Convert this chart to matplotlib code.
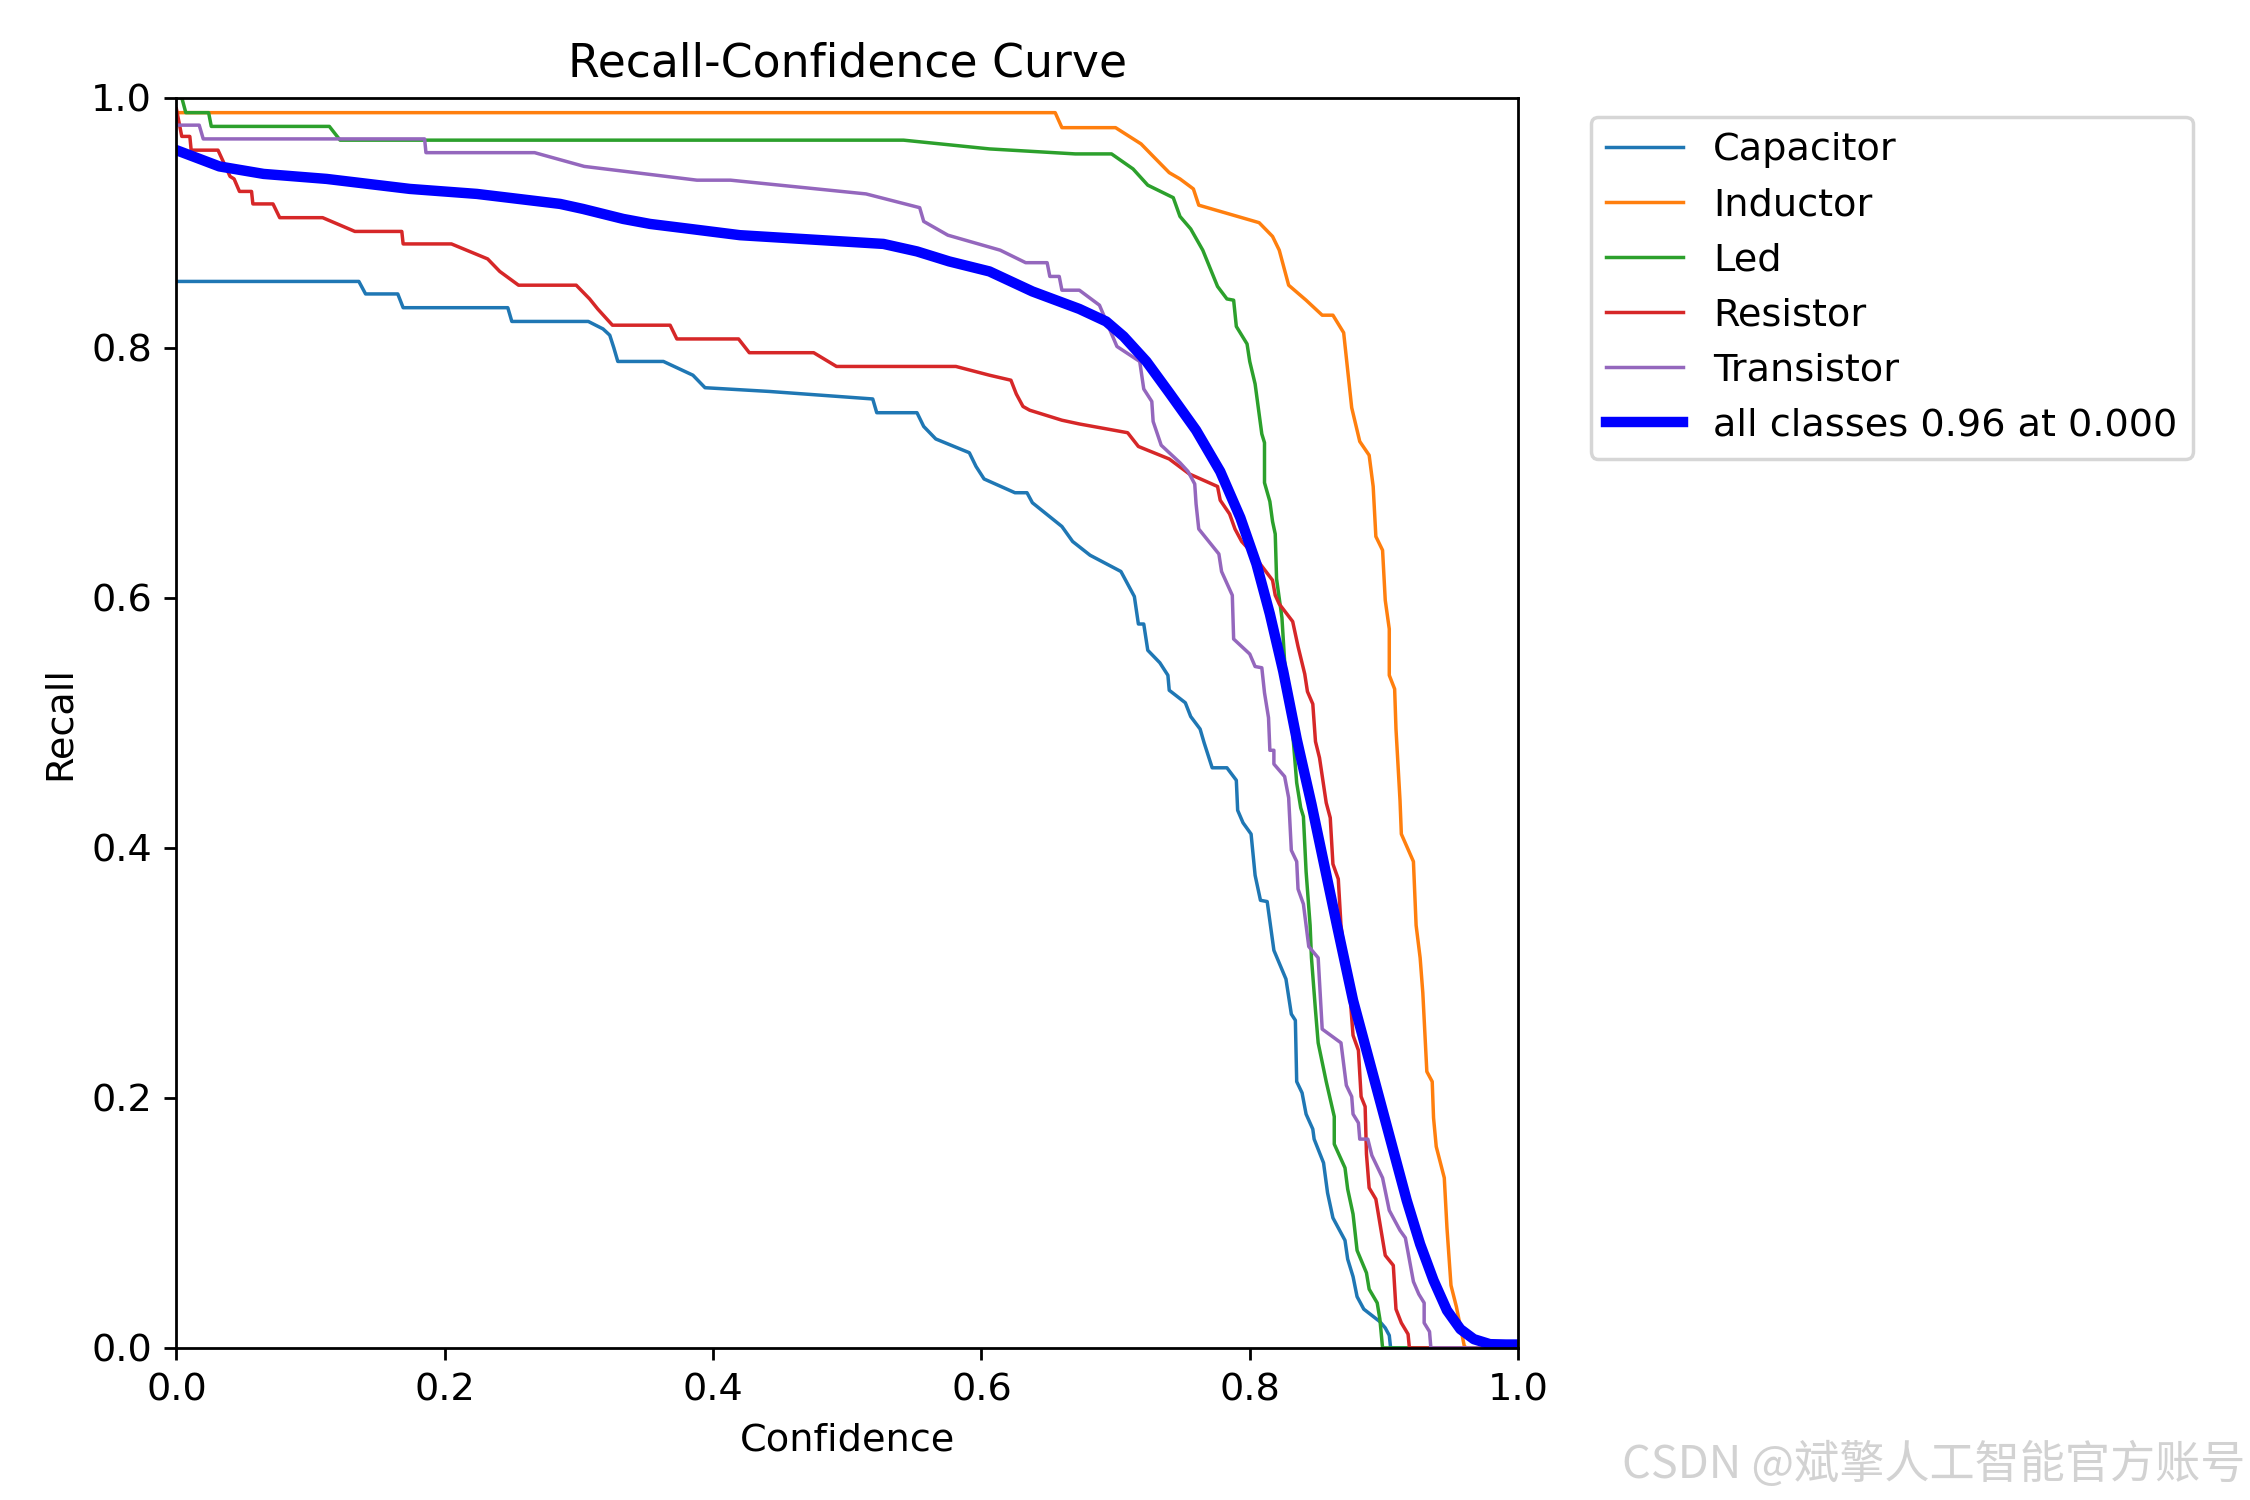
import matplotlib
matplotlib.use("Agg")
import matplotlib.pyplot as plt

plt.rcParams["font.size"] = 11

class_names = ["Capacitor", "Inductor", "Led", "Resistor", "Transistor"]

cap_x = [0, 0.136, 0.141, 0.165, 0.169, 0.247, 0.250, 0.307, 0.318, 0.323, 0.326, 0.329, 0.363, 0.385, 0.394,
         0.442, 0.519, 0.522, 0.552, 0.557, 0.566, 0.591, 0.596, 0.602, 0.625, 0.634, 0.638, 0.660, 0.668,
         0.681, 0.704, 0.714, 0.717, 0.721, 0.724, 0.733, 0.739, 0.740, 0.752, 0.756, 0.763, 0.766, 0.772,
         0.783, 0.790, 0.791, 0.795, 0.801, 0.804, 0.808, 0.813, 0.818, 0.827, 0.831, 0.834, 0.835, 0.839,
         0.842, 0.847, 0.848, 0.855, 0.858, 0.862, 0.871, 0.873, 0.877, 0.880, 0.885, 0.897, 0.901, 0.904,
         0.905, 1.0]
cap_y = [0.853, 0.853, 0.843, 0.843, 0.832, 0.832, 0.821, 0.821, 0.815, 0.810, 0.800, 0.789, 0.789, 0.778, 0.768,
         0.765, 0.759, 0.748, 0.748, 0.737, 0.727, 0.716, 0.705, 0.695, 0.684, 0.684, 0.676, 0.657, 0.645,
         0.634, 0.621, 0.601, 0.579, 0.579, 0.558, 0.548, 0.538, 0.526, 0.516, 0.505, 0.495, 0.484, 0.464,
         0.464, 0.454, 0.430, 0.420, 0.411, 0.378, 0.358, 0.357, 0.318, 0.295, 0.267, 0.262, 0.213, 0.204,
         0.187, 0.175, 0.167, 0.148, 0.124, 0.104, 0.086, 0.071, 0.057, 0.041, 0.031, 0.021, 0.016, 0.010,
         0.0, 0.0]

ind_x = [0, 0.655, 0.660, 0.700, 0.719, 0.729, 0.740, 0.748, 0.758, 0.762, 0.807, 0.817, 0.822, 0.826, 0.829,
         0.842, 0.854, 0.862, 0.870, 0.872, 0.876, 0.882, 0.889, 0.892, 0.894, 0.899, 0.901, 0.904, 0.904,
         0.908, 0.909, 0.912, 0.913, 0.922, 0.924, 0.927, 0.929, 0.932, 0.936, 0.937, 0.939, 0.945, 0.947,
         0.950, 0.954, 0.960, 0.962, 1.0]
ind_y = [0.988, 0.988, 0.976, 0.976, 0.963, 0.952, 0.940, 0.935, 0.927, 0.914, 0.900, 0.889, 0.878, 0.862, 0.850,
         0.838, 0.826, 0.826, 0.812, 0.792, 0.752, 0.725, 0.714, 0.689, 0.649, 0.638, 0.598, 0.575, 0.538,
         0.527, 0.495, 0.438, 0.411, 0.389, 0.338, 0.312, 0.284, 0.221, 0.213, 0.184, 0.161, 0.136, 0.096,
         0.050, 0.033, 0.001, 0.0, 0.0]

led_x = [0, 0.004, 0.007, 0.024, 0.026, 0.114, 0.122, 0.542, 0.606, 0.670, 0.697, 0.713, 0.724, 0.743, 0.748,
         0.756, 0.765, 0.776, 0.783, 0.788, 0.790, 0.798, 0.800, 0.804, 0.809, 0.811, 0.811, 0.815, 0.817,
         0.819, 0.820, 0.824, 0.826, 0.832, 0.835, 0.838, 0.840, 0.842, 0.845, 0.846, 0.849, 0.851, 0.857,
         0.863, 0.863, 0.871, 0.873, 0.877, 0.880, 0.887, 0.889, 0.895, 0.897, 0.899, 1.0]
led_y = [1.0, 1.0, 0.988, 0.988, 0.977, 0.977, 0.966, 0.966, 0.959, 0.955, 0.955, 0.943, 0.930, 0.920, 0.905,
         0.895, 0.878, 0.849, 0.839, 0.838, 0.817, 0.803, 0.789, 0.771, 0.731, 0.724, 0.692, 0.677, 0.661,
         0.651, 0.615, 0.584, 0.549, 0.492, 0.452, 0.432, 0.425, 0.381, 0.338, 0.312, 0.270, 0.244, 0.213,
         0.185, 0.163, 0.144, 0.127, 0.107, 0.078, 0.060, 0.047, 0.036, 0.023, 0.0, 0.0]

res_x = [0, 0.004, 0.010, 0.011, 0.031, 0.040, 0.043, 0.047, 0.056, 0.057, 0.072, 0.077, 0.109, 0.133, 0.168,
         0.169, 0.205, 0.232, 0.241, 0.255, 0.298, 0.308, 0.314, 0.325, 0.368, 0.373, 0.419, 0.427, 0.475,
         0.492, 0.581, 0.606, 0.622, 0.626, 0.631, 0.636, 0.660, 0.673, 0.709, 0.717, 0.740, 0.755, 0.776,
         0.778, 0.785, 0.789, 0.794, 0.800, 0.817, 0.819, 0.822, 0.832, 0.836, 0.841, 0.843, 0.847, 0.849,
         0.852, 0.857, 0.860, 0.862, 0.866, 0.868, 0.875, 0.877, 0.881, 0.883, 0.886, 0.887, 0.889, 0.894,
         0.901, 0.907, 0.909, 0.913, 0.918, 0.919, 1.0]
res_y = [0.991, 0.969, 0.969, 0.958, 0.958, 0.937, 0.935, 0.925, 0.925, 0.915, 0.915, 0.904, 0.904, 0.893, 0.893,
         0.883, 0.883, 0.871, 0.861, 0.850, 0.850, 0.839, 0.831, 0.818, 0.818, 0.807, 0.807, 0.796, 0.796,
         0.785, 0.785, 0.778, 0.774, 0.763, 0.753, 0.750, 0.742, 0.739, 0.732, 0.721, 0.711, 0.699, 0.689,
         0.678, 0.667, 0.655, 0.645, 0.638, 0.614, 0.602, 0.595, 0.581, 0.561, 0.539, 0.525, 0.515, 0.485,
         0.472, 0.436, 0.424, 0.387, 0.375, 0.338, 0.278, 0.250, 0.238, 0.201, 0.193, 0.155, 0.128, 0.119,
         0.074, 0.066, 0.031, 0.020, 0.011, 0.0, 0.0]

tra_x = [0, 0.017, 0.020, 0.185, 0.186, 0.267, 0.304, 0.388, 0.413, 0.514, 0.554, 0.557, 0.575, 0.614, 0.633,
         0.649, 0.651, 0.658, 0.660, 0.673, 0.688, 0.701, 0.718, 0.721, 0.727, 0.728, 0.734, 0.748, 0.754,
         0.759, 0.760, 0.762, 0.777, 0.779, 0.787, 0.788, 0.800, 0.804, 0.809, 0.811, 0.814, 0.815, 0.818,
         0.818, 0.826, 0.829, 0.831, 0.835, 0.836, 0.840, 0.844, 0.851, 0.854, 0.868, 0.872, 0.876, 0.877,
         0.881, 0.882, 0.888, 0.891, 0.899, 0.904, 0.912, 0.916, 0.922, 0.926, 0.930, 0.930, 0.934, 0.935, 1.0]
tra_y = [0.978, 0.978, 0.967, 0.967, 0.956, 0.956, 0.945, 0.934, 0.934, 0.923, 0.912, 0.901, 0.890, 0.878, 0.868,
         0.868, 0.857, 0.857, 0.846, 0.846, 0.834, 0.801, 0.789, 0.767, 0.757, 0.741, 0.722, 0.708, 0.701,
         0.691, 0.675, 0.655, 0.635, 0.621, 0.602, 0.567, 0.555, 0.545, 0.544, 0.524, 0.504, 0.478, 0.478,
         0.467, 0.457, 0.440, 0.398, 0.389, 0.367, 0.355, 0.321, 0.312, 0.255, 0.244, 0.210, 0.201, 0.187,
         0.180, 0.167, 0.167, 0.154, 0.136, 0.110, 0.094, 0.088, 0.053, 0.043, 0.036, 0.020, 0.013, 0.0, 0.0]

all_x = [0, 0.032, 0.065, 0.112, 0.174, 0.224, 0.286, 0.303, 0.333, 0.353, 0.383, 0.420, 0.527, 0.552, 0.576,
         0.606, 0.638, 0.673, 0.693, 0.706, 0.723, 0.740, 0.760, 0.778, 0.793, 0.805, 0.815, 0.825, 0.835,
         0.846, 0.855, 0.865, 0.877, 0.887, 0.897, 0.907, 0.917, 0.927, 0.937, 0.947, 0.957, 0.967, 0.979,
         0.991, 1.0]
all_y = [0.958, 0.945, 0.939, 0.935, 0.927, 0.923, 0.915, 0.911, 0.903, 0.899, 0.895, 0.890, 0.883, 0.877, 0.869,
         0.861, 0.845, 0.831, 0.821, 0.809, 0.789, 0.764, 0.734, 0.701, 0.664, 0.627, 0.587, 0.541, 0.487,
         0.435, 0.389, 0.338, 0.278, 0.238, 0.198, 0.158, 0.118, 0.083, 0.054, 0.030, 0.015, 0.007, 0.003,
         0.0027, 0.0027]
all_label = "all classes 0.96 at 0.000"

series_x = [cap_x, ind_x, led_x, res_x, tra_x]
series_y = [cap_y, ind_y, led_y, res_y, tra_y]

fig = plt.figure(figsize=(9, 6), dpi=250)
ax = fig.add_axes([0.0784, 0.1014, 0.6747 - 0.0784, 0.9349 - 0.1014])
for name, xs, ys in zip(class_names, series_x, series_y):
    ax.plot(xs, ys, linewidth=1, label=name)
ax.plot(all_x, all_y, linewidth=3, color="blue", label=all_label)
ax.set_xlabel("Confidence")
ax.set_ylabel("Recall")
ax.set_xlim(0, 1)
ax.set_ylim(0, 1)
ax.legend(bbox_to_anchor=(1.04, 1), loc="upper left")
ax.set_title("Recall-Confidence Curve")

fig.text(0.998, 0.008, "CSDN @斌擎人工智能官方账号", ha="right", va="bottom", fontsize=13,
         color="#d2d2d2", family=["Noto Sans CJK SC", "DejaVu Sans"])

fig.savefig("out.png", dpi=250)
